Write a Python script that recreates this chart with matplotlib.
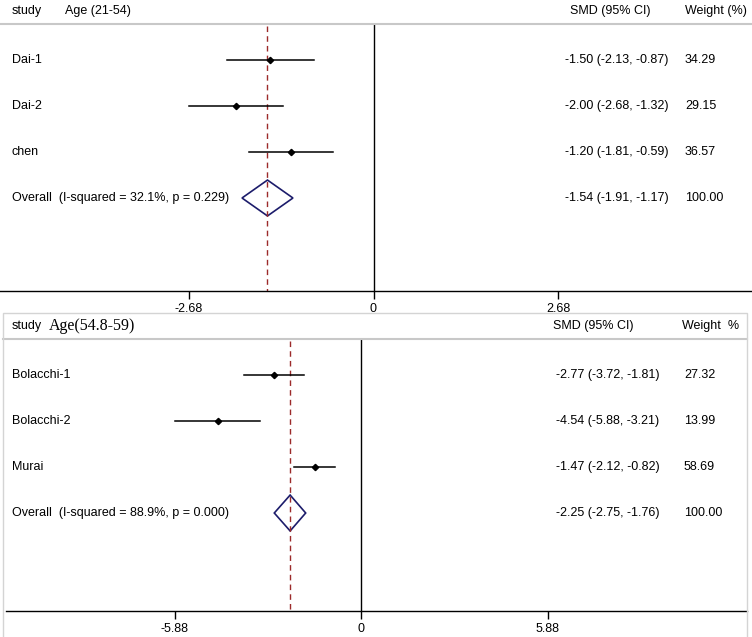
import matplotlib.pyplot as plt
from matplotlib.patches import Polygon, Rectangle

plt.rcParams['font.family'] = ['Liberation Sans', 'DejaVu Sans']

# ---- data: panel 1, Age (21-54)
studies_a = ['Dai-1', 'Dai-2', 'chen']
smd_a = [-1.50, -2.00, -1.20]
lo_a = [-2.13, -2.68, -1.81]
hi_a = [-0.87, -1.32, -0.59]
weight_a = [34.29, 29.15, 36.57]
overall_a = -1.54
overall_lo_a = -1.91
overall_hi_a = -1.17
i2_a = 32.1
p_a = 0.229
ticks_a = [-2.68, 0, 2.68]

# ---- data: panel 2, Age(54.8-59)
studies_b = ['Bolacchi-1', 'Bolacchi-2', 'Murai']
smd_b = [-2.77, -4.54, -1.47]
lo_b = [-3.72, -5.88, -2.12]
hi_b = [-1.81, -3.21, -0.82]
weight_b = [27.32, 13.99, 58.69]
overall_b = -2.25
overall_lo_b = -2.75
overall_hi_b = -1.76
i2_b = 88.9
p_b = 0.000
ticks_b = [-5.88, 0, 5.88]

W, H = 752, 637
fig = plt.figure(figsize=(W / 100, H / 100), dpi=100)

# light grey frame round the lower panel
fig.patches.append(Rectangle((3 / W, -0.02), 744 / W, 324 / H + 0.02,
                             transform=fig.transFigure, fill=False,
                             edgecolor='#d4d4d4', lw=1.0))


def draw_panel(ax, names, est, lo, hi, wts, ov, ov_lo, ov_hi, i2, p, ticks,
               tick_px, ylim, head_label, head_font, smd_x, wt_x, smd_head_x,
               wt_head_x, wt_head, line_x0=0.0, line_x1=1.0):
    # x scale from the two outer tick positions in pixels
    scale = (tick_px[1] - tick_px[0]) / (ticks[2] - ticks[0])
    zero = (tick_px[0] + tick_px[1]) / 2
    ax.set_xlim(-zero / scale, (W - zero) / scale)
    ax.set_ylim(*ylim)

    rows = list(range(1, len(names) + 1))
    ov_row = len(names) + 1
    top = 0.217
    head_y = -0.07

    ax.plot([0, 0], [top, ylim[0]], color='black', lw=1.0)
    ax.plot([ov, ov], [top + 0.05, ylim[0]], color='#9c2a2a', lw=1.0,
            dashes=(4, 3))

    for r, e, l, h in zip(rows, est, lo, hi):
        ax.plot([l, h], [r, r], color='black', lw=1.1)
        ax.plot(e, r, marker='D', color='black', ms=3.2)

    hh = 0.39
    ax.add_patch(Polygon([[ov_lo, ov_row], [ov, ov_row - hh], [ov_hi, ov_row],
                          [ov, ov_row + hh]], closed=True, fill=False,
                         edgecolor='#1c1c6b', lw=1.2))

    # header
    tr = ax.get_yaxis_transform()
    ax.plot([line_x0, line_x1], [top, top], color='#c8c8c8', lw=1.5,
            transform=tr, clip_on=False)
    ax.text(12 / W, head_y, 'study', transform=tr, fontsize=9, va='center')
    ax.text(head_label[1] / W, head_y, head_label[0], transform=tr,
            va='center', **head_font)
    ax.text(smd_head_x / W, head_y, 'SMD (95% CI)', transform=tr, fontsize=9,
            va='center')
    ax.text(wt_head_x / W, head_y, wt_head, transform=tr, fontsize=9,
            va='center')

    for r, n, e, l, h, w in zip(rows, names, est, lo, hi, wts):
        ax.text(12 / W, r, n, transform=tr, fontsize=9, va='center')
        ax.text(smd_x / W, r, f'{e:.2f} ({l:.2f}, {h:.2f})', transform=tr,
                fontsize=9, va='center')
        ax.text(wt_x / W, r, f'{w:.2f}', transform=tr, fontsize=9, va='center')

    ax.text(12 / W, ov_row, f'Overall  (I-squared = {i2:.1f}%, p = {p:.3f})',
            transform=tr, fontsize=9, va='center')
    ax.text(smd_x / W, ov_row, f'{ov:.2f} ({ov_lo:.2f}, {ov_hi:.2f})',
            transform=tr, fontsize=9, va='center')
    ax.text(wt_x / W, ov_row, '100.00', transform=tr, fontsize=9, va='center')

    for s in ['top', 'left', 'right']:
        ax.spines[s].set_visible(False)
    ax.spines['bottom'].set_linewidth(1.0)
    ax.set_yticks([])
    ax.set_xticks(ticks)
    ax.set_xticklabels([f'{t:g}' if t == 0 else f'{t:.2f}' for t in ticks])
    ax.tick_params(axis='x', length=6, width=1.0, labelsize=9, pad=3)
    ax.set_facecolor('none')


ax1 = fig.add_axes([0, 1 - 291 / H, 1, 291 / H])
draw_panel(ax1, studies_a, smd_a, lo_a, hi_a, weight_a, overall_a,
           overall_lo_a, overall_hi_a, i2_a, p_a, ticks_a, (189, 558),
           (1 + 231 / 46, 1 - 60 / 46), ('Age (21-54)', 65),
           dict(fontsize=9), 565, 685, 570, 685, 'Weight (%)')

ax2 = fig.add_axes([0, 1 - 611 / H, 1, 298 / H])
draw_panel(ax2, studies_b, smd_b, lo_b, hi_b, weight_b, overall_b,
           overall_lo_b, overall_hi_b, i2_b, p_b, ticks_b, (175, 548),
           (1 + 236 / 46, 1 - 62 / 46), ('Age(54.8-59)', 49),
           dict(fontsize=11.5, family='Liberation Serif'), 556, 684, 553, 682,
           'Weight  %', line_x0=3 / W, line_x1=747 / W)
ax2.spines['bottom'].set_bounds(-356 / 31.72, 386 / 31.72)

fig.savefig('out.png', dpi=100)
